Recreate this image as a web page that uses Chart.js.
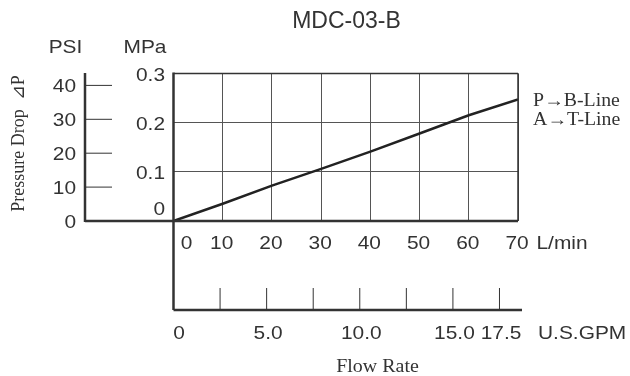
<!DOCTYPE html>
<html>
<head>
<meta charset="utf-8">
<script src="https://cdn.jsdelivr.net/npm/chart.js@4/dist/chart.umd.min.js"></script>
<style>
  html, body { margin: 0; padding: 0; background: #fff; }
  #wrap { width: 630px; height: 376px; }
</style>
</head>
<body>
<div id="wrap"><canvas id="pdChart" width="630" height="376"></canvas></div>
<script>
// flow rate (L/min) and pressure drop (MPa)
const flowLpm = [0, 10, 20, 30, 40, 50, 60, 70];
const dropMPa = [0, 0.035, 0.072, 0.106, 0.141, 0.178, 0.215, 0.247];

const mpaTicks = [0, 0.1, 0.2, 0.3];
const psiTicks = [0, 10, 20, 30, 40];
const lpmTicks = [0, 10, 20, 30, 40, 50, 60, 70];
const gpmTicks = [2.5, 5, 7.5, 10, 12.5, 15, 17.5];
const gpmLabels = ['0', '5.0', '10.0', '15.0', '17.5'];
const gpmLabelValues = [0, 5, 10, 15, 17.5];

const PSI_PER_MPA = 145.04;
const LPM_PER_GPM = 3.785;
const INK = '#333';

function txt(ctx, s, x, y, align, font, sx) {
    ctx.save();
    ctx.translate(x, y);
    ctx.scale(sx || 1, 1);
    ctx.font = font;
    ctx.fillStyle = INK;
    ctx.textAlign = align;
    ctx.textBaseline = 'middle';
    ctx.fillText(s, 0, 0);
    ctx.restore();
}

function line(ctx, x1, y1, x2, y2, w) {
    ctx.beginPath();
    ctx.lineWidth = w;
    ctx.strokeStyle = INK;
    ctx.moveTo(x1, y1);
    ctx.lineTo(x2, y2);
    ctx.stroke();
}

const SANS = 'Arial, "Liberation Sans", sans-serif';
const SERIF = '"Times New Roman", "Liberation Serif", serif';

const decorations = {
    id: 'decorations',
    afterDraw(chart) {
        const ctx = chart.ctx;
        const a = chart.chartArea;
        const xs = chart.scales.x;
        const ys = chart.scales.y;

        // plot frame
        line(ctx, a.left, a.top, a.right, a.top, 1.5);
        line(ctx, a.right, a.top, a.right, a.bottom, 1.5);
        line(ctx, a.left, a.top - 1, a.left, 310, 2.5);
        line(ctx, 85, a.bottom, a.right, a.bottom, 2.5);

        // PSI axis
        line(ctx, 85, a.top - 0.5, 85, a.bottom + 1, 2.5);
        psiTicks.forEach(function (p) {
            const y = ys.getPixelForValue(p / PSI_PER_MPA);
            if (p > 0) line(ctx, 85, y, 112, y, 1);
            txt(ctx, String(p), 76, y + 1.5, 'right', '19px ' + SANS, 1.1);
        });

        // MPa labels
        mpaTicks.forEach(function (m) {
            const y = ys.getPixelForValue(m);
            txt(ctx, m === 0 ? '0' : m.toFixed(1), 165, m === 0 ? y - 11 : y + 2, 'right', '19px ' + SANS, 1.1);
        });

        // L/min labels
        lpmTicks.forEach(function (v) {
            const x = xs.getPixelForValue(v);
            txt(ctx, String(v), v === 0 ? x + 13 : x - 1, 243.5, 'center', '19px ' + SANS, 1.1);
        });
        txt(ctx, 'L/min', 536.5, 243.5, 'left', '19px ' + SANS, 1.1);

        // U.S.GPM axis
        line(ctx, a.left, 310, 522, 310, 2.5);
        gpmTicks.forEach(function (g) {
            const x = xs.getPixelForValue(g * LPM_PER_GPM);
            line(ctx, x, 288, x, 310, 1);
        });
        gpmLabels.forEach(function (s, i) {
            const x = xs.getPixelForValue(gpmLabelValues[i] * LPM_PER_GPM);
            txt(ctx, s, i === 0 ? x + 5.5 : x + 1.5, 333.5, 'center', '19px ' + SANS, 1.1);
        });
        txt(ctx, 'U.S.GPM', 538, 333.5, 'left', '19px ' + SANS, 1.1);

        // titles
        txt(ctx, 'MDC-03-B', 346.5, 21.5, 'center', '23px ' + SANS, 1);
        txt(ctx, 'PSI', 65.5, 47.5, 'center', '19px ' + SANS, 1.1);
        txt(ctx, 'MPa', 145, 47.5, 'center', '19px ' + SANS, 1.1);
        txt(ctx, 'Flow Rate', 377.5, 367, 'center', '19px ' + SERIF, 1.05);
        txt(ctx, 'P\u2192B-Line', 533, 101.5, 'left', '18px ' + SERIF, 1.1);
        txt(ctx, 'A\u2192T-Line', 533, 120.5, 'left', '18px ' + SERIF, 1.1);

        ctx.save();
        ctx.translate(19.5, 143.5);
        ctx.rotate(-Math.PI / 2);
        ctx.font = '18px ' + SERIF;
        ctx.fillStyle = INK;
        ctx.textAlign = 'center';
        ctx.textBaseline = 'middle';
        ctx.fillText('Pressure Drop  \u22BFP', 0, 0);
        ctx.restore();
    }
};

new Chart(document.getElementById('pdChart').getContext('2d'), {
    type: 'line',
    data: {
        datasets: [{
            label: 'P\u2192B-Line / A\u2192T-Line',
            data: flowLpm.map(function (f, i) { return { x: f, y: dropMPa[i] }; }),
            borderColor: '#222',
            borderWidth: 2.5,
            pointRadius: 0,
            tension: 0,
            fill: false
        }]
    },
    options: {
        responsive: false,
        animation: false,
        devicePixelRatio: 1,
        layout: { padding: { left: 173.5, top: 73.5, right: 112, bottom: 155 } },
        plugins: {
            legend: { display: false },
            tooltip: { enabled: false }
        },
        scales: {
            x: {
                type: 'linear',
                min: 0,
                max: 70,
                ticks: { display: false, stepSize: 10 },
                grid: { color: '#555', lineWidth: 1, drawTicks: false },
                border: { display: false }
            },
            y: {
                min: 0,
                max: 0.3,
                ticks: { display: false, stepSize: 0.1 },
                grid: { color: '#555', lineWidth: 1, drawTicks: false },
                border: { display: false }
            }
        }
    },
    plugins: [decorations]
});
</script>
</body>
</html>
